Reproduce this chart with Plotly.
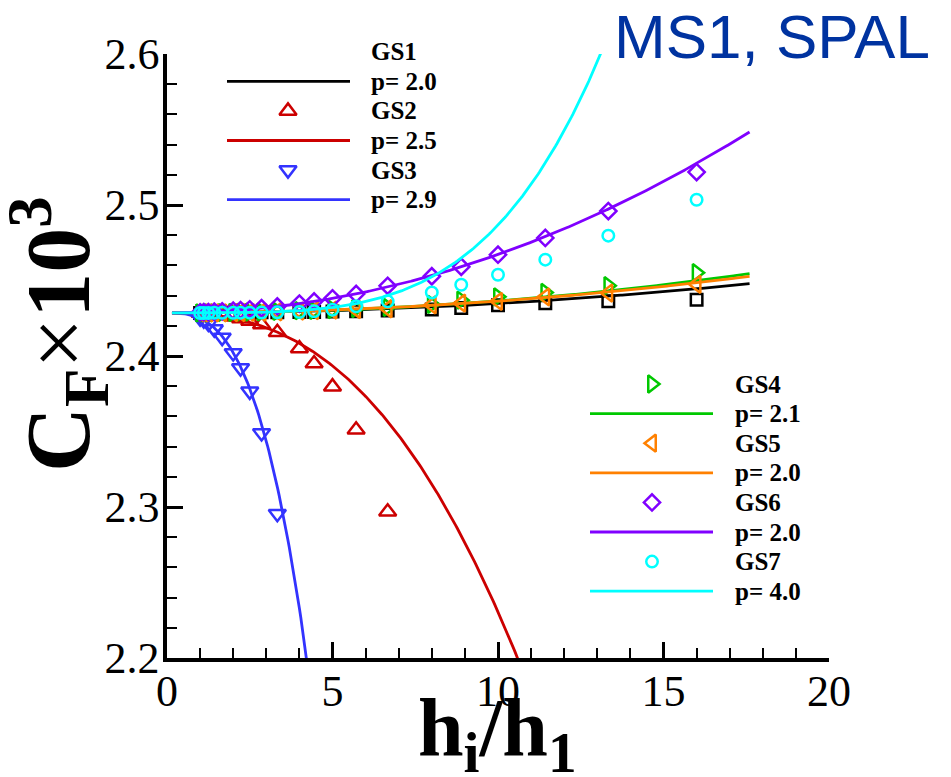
import numpy as np
import plotly.graph_objects as go

# grid-spacing ratio h_i/h_1 of the refinement levels
h_ratio = [1.0, 1.111, 1.25, 1.429, 1.667, 2.0, 2.222, 2.5, 2.857, 3.333,
           4.0, 4.444, 5.0, 5.714, 6.667, 8.0, 8.889, 10.0, 11.429, 13.333, 16.0]

# skin-friction coefficient C_F x 10^3 for each grid sequence
cf_gs1 = [2.4285, 2.4285, 2.4285, 2.4286, 2.4286, 2.4287, 2.4287, 2.4288, 2.4289, 2.4290,
          2.4291, 2.4292, 2.4294, 2.4296, 2.4302, 2.4308, 2.4318, 2.4336, 2.4350, 2.4362, 2.4373]
cf_gs2 = [2.4284, 2.4283, 2.4281, 2.4278, 2.4272, 2.4260, 2.4248, 2.4232, 2.4208, 2.4157,
          2.4050, 2.3950, 2.3797, 2.3512, 2.2969]
cf_gs3 = [2.4250, 2.4237, 2.4215, 2.4178, 2.4122, 2.4020, 2.3920, 2.3766, 2.3490, 2.2955]
cf_gs4 = [2.4285, 2.4285, 2.4286, 2.4286, 2.4287, 2.4288, 2.4289, 2.4290, 2.4292, 2.4295,
          2.4300, 2.4303, 2.4308, 2.4314, 2.4322, 2.4342, 2.4370, 2.4392, 2.4421, 2.4466, 2.4552]
cf_gs5 = [2.4285, 2.4285, 2.4285, 2.4286, 2.4286, 2.4287, 2.4288, 2.4289, 2.4291, 2.4293,
          2.4297, 2.4300, 2.4304, 2.4308, 2.4313, 2.4338, 2.4350, 2.4362, 2.4392, 2.4417, 2.4475]
cf_gs6 = [2.4289, 2.4290, 2.4291, 2.4293, 2.4296, 2.4300, 2.4304, 2.4309, 2.4317, 2.4328,
          2.4347, 2.4361, 2.4382, 2.4411, 2.4465, 2.4528, 2.4591, 2.4671, 2.4782, 2.4960, 2.5218]
cf_gs7 = [2.4285, 2.4285, 2.4285, 2.4286, 2.4286, 2.4286, 2.4287, 2.4287, 2.4288, 2.4289,
          2.4291, 2.4296, 2.4307, 2.4329, 2.4362, 2.4421, 2.4472, 2.4538, 2.4638, 2.4797, 2.5035]

series_names = ["GS1", "GS2", "GS3", "GS4", "GS5", "GS6", "GS7"]

# power-law fits: C_F = cf_extrap + fit_coef * (h_i/h_1)^p
cf_extrap = 2.4285
fit_p = [2.0, 2.5, 2.9, 2.1, 2.0, 2.0, 4.0]
fit_coef = [6.26e-5, -6.26e-4, -3.51e-3, 6.30e-5, 7.81e-5, 3.87e-4, 5.82e-6]
fit_range = [0.15, 17.6]

colors = ["#000000", "#cc0000", "#3333ff", "#00c800", "#ff8000", "#8000ff", "#00ffff"]
symbols = ["square-open", "triangle-up-open", "triangle-down-open", "triangle-right-open",
           "triangle-left-open", "diamond-open", "circle-open"]
msizes = [11.5, 15, 15, 15, 15, 12.5, 11.5]

cf_series = [cf_gs1, cf_gs2, cf_gs3, cf_gs4, cf_gs5, cf_gs6, cf_gs7]

# plot-area geometry in pixels
W, H = 951, 777
L, R, T, B = 167, 122, 54, 119
X0, X1 = L, W - R
Y0, Y1 = T, H - B


def px(x, y):
    """pixel position -> paper coordinates"""
    return (x - X0) / (X1 - X0), (Y1 - y) / (Y1 - Y0)


fig = go.Figure()

hs = np.linspace(fit_range[0], fit_range[1], 400)
for name, cf, p, c, col, sym, ms in zip(series_names, cf_series, fit_p, fit_coef,
                                         colors, symbols, msizes):
    fig.add_trace(go.Scatter(
        x=h_ratio[:len(cf)], y=cf, mode="markers", name=name,
        marker=dict(symbol=sym, size=ms, color=col, line=dict(color=col, width=2.5)),
    ))
    fig.add_trace(go.Scatter(
        x=hs, y=cf_extrap + c * hs ** p, mode="lines", name=f"p= {p:.1f}",
        line=dict(color=col, width=2.8),
    ))

# legend blocks (pixel layout on an overlay axis pair)
legend_blocks = [
    dict(idx=[0, 1, 2], mx=288, lx=(227, 350), tx=369, y0=51.7),
    dict(idx=[3, 4, 5, 6], mx=652, lx=(590, 713), tx=733, y0=384),
]
row = 29.6
serif = "Liberation Serif, Times New Roman, serif"
annotations = []
for blk in legend_blocks:
    for k, i in enumerate(blk["idx"]):
        ym = blk["y0"] + 2 * k * row
        yl = ym + row
        fig.add_trace(go.Scatter(
            x=[blk["mx"]], y=[ym], xaxis="x2", yaxis="y2", mode="markers",
            cliponaxis=False, hoverinfo="skip",
            marker=dict(symbol=symbols[i], size=msizes[i], color=colors[i],
                        line=dict(color=colors[i], width=2.5)),
        ))
        fig.add_trace(go.Scatter(
            x=list(blk["lx"]), y=[yl, yl], xaxis="x2", yaxis="y2", mode="lines",
            hoverinfo="skip", line=dict(color=colors[i], width=2.8),
        ))
        for txt, yy in ((series_names[i], ym), (f"p= {fit_p[i]:.1f}", yl)):
            ax, ay = px(blk["tx"], yy)
            annotations.append(dict(
                x=ax, y=ay, xref="paper", yref="paper", text=f"<b>{txt}</b>",
                showarrow=False, xanchor="left", yanchor="middle",
                font=dict(family=serif, size=25, color="black"),
            ))

# axis titles
ax, ay = px(497, 733)
annotations.append(dict(
    x=ax, y=ay, xref="paper", yref="paper", showarrow=False,
    text="<b>h<sub>i</sub>/h<sub>1</sub></b>", xanchor="center", yanchor="middle",
    font=dict(family=serif, size=82, color="black"),
))
ax, ay = px(58, 334)
annotations.append(dict(
    x=ax, y=ay, xref="paper", yref="paper", showarrow=False, textangle=-90,
    text="<b>C<sub>F</sub></b>×<b>10<sup>3</sup></b>", xanchor="center", yanchor="middle",
    font=dict(family=serif, size=90, color="black"),
))
# case label
ax, ay = px(932, 37)
annotations.append(dict(
    x=ax, y=ay, xref="paper", yref="paper", showarrow=False,
    text="MS1, SPAL", xanchor="right", yanchor="middle",
    font=dict(family="Liberation Sans, Arial, sans-serif", size=62, color="#0033a0"),
))

tickfont = dict(family=serif, size=44, color="black")
fig.update_layout(
    width=W, height=H,
    margin=dict(l=L, r=R, t=T, b=B, autoexpand=False),
    paper_bgcolor="white", plot_bgcolor="white",
    font=dict(family=serif, color="black"),
    showlegend=False,
    annotations=annotations,
    xaxis=dict(
        range=[0, 20], tickvals=[0, 5, 10, 15, 20], ticks="inside", ticklen=16,
        tickwidth=3, tickcolor="black", showline=True, linewidth=3.5, linecolor="black",
        showgrid=False, zeroline=False, tickfont=tickfont, ticklabelstandoff=-9,
        minor=dict(ticks="inside", ticklen=10, tickwidth=1.5, tickcolor="black",
                   tick0=0, dtick=1, showgrid=False),
    ),
    yaxis=dict(
        range=[2.2, 2.6], tick0=2.2, dtick=0.1, tickformat=".1f", ticks="inside",
        ticklen=16, tickwidth=3, tickcolor="black", showline=True, linewidth=3.5,
        linecolor="black", showgrid=False, zeroline=False, tickfont=tickfont,
        ticklabelstandoff=-5,
        minor=dict(ticks="inside", ticklen=10, tickwidth=1.5, tickcolor="black",
                   tick0=2.2, dtick=0.02, showgrid=False),
    ),
    xaxis2=dict(range=[X0, X1], overlaying="x", anchor="y2", visible=False,
                fixedrange=True),
    yaxis2=dict(range=[Y1, Y0], overlaying="y", anchor="x2", visible=False,
                fixedrange=True),
)

fig.write_html("out.html")
